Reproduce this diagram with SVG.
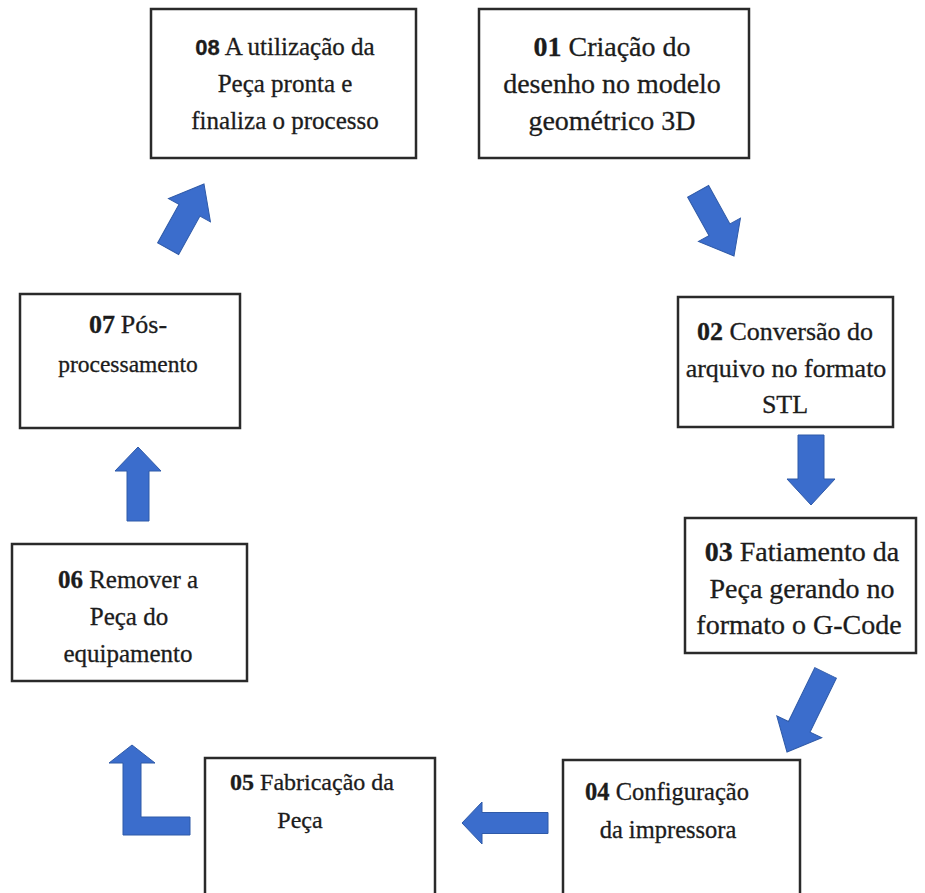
<svg xmlns="http://www.w3.org/2000/svg" width="925" height="893" viewBox="0 0 925 893">
<style>
.box{fill:#fff;stroke:#2a2a2a;stroke-width:2.5}
.t{font-family:"Liberation Serif","Times New Roman",serif;fill:#1c1c1c;stroke:#1c1c1c;stroke-width:0.3;text-anchor:middle}
.b{font-weight:bold}
.bs{font-family:"Liberation Sans",Arial,sans-serif;font-weight:bold;font-size:0.88em}
.arr{fill:#3b6dcc;stroke:#2f5aa8;stroke-width:1}
</style>
<rect width="925" height="893" fill="#fff"/>
<g id="n08" font-size="25"><rect class="box" x="151" y="9" width="265" height="149"/>
<text class="t" x="285" y="55"><tspan class="bs">08</tspan> A utilização da</text>
<text class="t" x="285" y="92">Peça pronta e</text>
<text class="t" x="285" y="129">finaliza o processo</text></g>
<g id="n01" font-size="28"><rect class="box" x="479" y="9" width="270" height="149"/>
<text class="t" x="612" y="56"><tspan class="b">01</tspan> Criação do</text>
<text class="t" x="612" y="93">desenho no modelo</text>
<text class="t" x="612" y="130">geométrico 3D</text></g>
<g id="n02" font-size="26"><rect class="box" x="678" y="297" width="215" height="130"/>
<text class="t" x="785" y="340"><tspan class="b">02</tspan> Conversão do</text>
<text class="t" x="786" y="377">arquivo no formato</text>
<text class="t" x="785" y="413">STL</text></g>
<g id="n03" font-size="28"><rect class="box" x="685" y="518" width="231" height="135"/>
<text class="t" x="802" y="561"><tspan class="b">03</tspan> Fatiamento da</text>
<text class="t" x="802" y="598">Peça gerando no</text>
<text class="t" x="799" y="634">formato o G-Code</text></g>
<g id="n04" font-size="24.5"><rect class="box" x="563" y="760" width="237" height="145"/>
<text class="t" x="667" y="800"><tspan class="b">04</tspan> Configuração</text>
<text class="t" x="668" y="838">da impressora</text></g>
<g id="n05" font-size="24"><rect class="box" x="205" y="758" width="230" height="145"/>
<text class="t" x="312" y="790"><tspan class="b">05</tspan> Fabricação da</text>
<text class="t" x="300" y="828">Peça</text></g>
<g id="n06" font-size="25"><rect class="box" x="12" y="544" width="235" height="137"/>
<text class="t" x="128" y="588"><tspan class="b">06</tspan> Remover a</text>
<text class="t" x="129" y="625">Peça do</text>
<text class="t" x="128" y="662">equipamento</text></g>
<g id="n07" font-size="23.5"><rect class="box" x="20" y="294" width="220" height="134"/>
<text class="t" x="128" y="333"><tspan class="b" font-size="26">07</tspan> <tspan font-size="26">Pós-</tspan></text>
<text class="t" x="128" y="372">processamento</text></g>
<g id="connectors">
<path class="arr" transform="translate(204,184) rotate(29)" d="M0,0 L24,30 L12,30 L12,74 L-12,74 L-12,30 L-24,30 Z"/>
<path class="arr" transform="translate(734,256) rotate(151)" d="M0,0 L24,30 L12,30 L12,74 L-12,74 L-12,30 L-24,30 Z"/>
<path class="arr" transform="translate(811,505) rotate(180)" d="M0,0 L24,26 L13,26 L13,70 L-13,70 L-13,26 L-24,26 Z"/>
<path class="arr" transform="translate(787,752) rotate(206)" d="M0,0 L25,28 L12,28 L12,88 L-12,88 L-12,28 L-25,28 Z"/>
<path class="arr" transform="translate(462,823) rotate(-90)" d="M0,0 L21,20 L10.5,20 L10.5,86 L-10.5,86 L-10.5,20 L-21,20 Z"/>
<path class="arr" d="M132,745 L155,763 L141,763 L141,817 L190,817 L190,835 L123,835 L123,763 L109,763 Z"/>
<path class="arr" transform="translate(138,447) rotate(0)" d="M0,0 L23,24 L11,24 L11,74 L-11,74 L-11,24 L-23,24 Z"/>
</g>
</svg>
